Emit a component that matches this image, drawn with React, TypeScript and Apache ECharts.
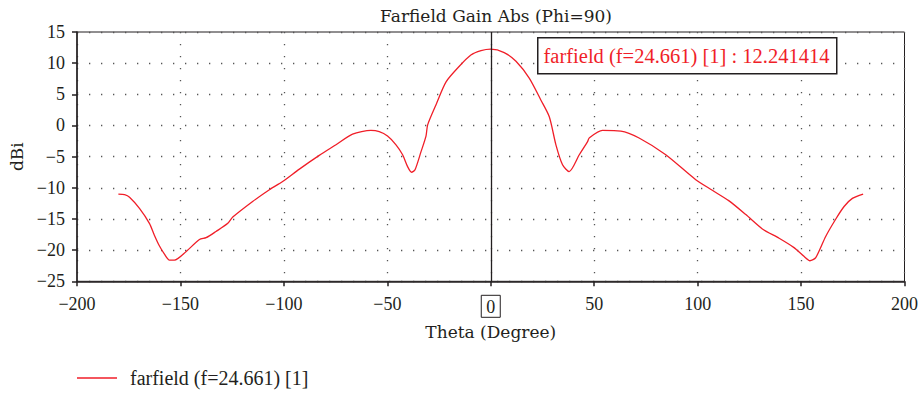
import React, { useEffect, useRef } from "react";
import * as echarts from "echarts";

const seriesName = "farfield (f=24.661) [1]";
const titleText = "Farfield Gain Abs (Phi=90)";
const annotationText = "farfield (f=24.661) [1] : 12.241414";
const xAxisName = "Theta (Degree)";
const yAxisName = "dBi";

const thetaDeg = [
  -180, -177, -174.6, -169.8, -165, -162.6, -160.2, -157.8, -155.3, -152.9,
  -147.2, -140.8, -137.6, -132.8, -127.1, -124.7, -115.1, -107, -100.6, -92.5,
  -82.9, -74.8, -66.8, -57.9, -53.9, -49.9, -45.8, -42.6, -40.2, -38.3,
  -36.6, -33.7, -31.3, -30.5, -26.5, -21.6, -15.2, -9.6, -4.7, 0,
  6.5, 12.2, 18.6, 24.2, 28.3, 31.5, 34.7, 37.9, 42.8, 46.8,
  47.6, 54, 62.9, 71.7, 84.6, 99.1, 107.1, 115.2, 123.3, 131.3,
  139.4, 146.6, 151.4, 154.3, 157.1, 161.9, 166.8, 170.8, 174.8, 180,
];
const gainDbi = [
  -11.0, -11.1, -11.5, -13.3, -15.7, -17.6, -19.3, -20.6, -21.6, -21.6,
  -20.2, -18.3, -18.0, -17.0, -15.7, -14.7, -12.2, -10.3, -9.0, -7.0,
  -4.8, -3.1, -1.4, -0.8, -1.0, -1.7, -3.1, -4.7, -6.6, -7.5,
  -7.1, -4.2, -1.7, 0.1, 3.3, 7.0, 9.5, 11.3, 12.0, 12.24,
  11.7, 10.3, 7.6, 4.1, 1.4, -3.1, -6.3, -7.4, -4.7, -2.6,
  -2.0, -0.8, -0.9, -2.0, -4.7, -8.7, -10.4, -12.1, -14.3, -16.6,
  -18.1, -19.6, -21.0, -21.7, -21.2, -17.8, -15.0, -13.0, -11.7, -11.0,
];

const X_MIN = -200, X_MAX = 200, X_STEP = 50;
const Y_MIN = -25, Y_MAX = 15, Y_STEP = 5;

const FONT = "'Liberation Serif', 'DejaVu Serif', serif";
const FONT_WIDE = "'DejaVu Serif', 'Liberation Serif', serif";
const INK = "#231f20";
const RED = "#f01e28";

const fmt = (v: number) => (v < 0 ? "\u2212" + Math.abs(v) : String(v));

export default function App() {
  const ref = useRef<HTMLDivElement>(null);
  useEffect(() => {
    if (!ref.current) return;
    const chart = echarts.init(ref.current, undefined, { renderer: "svg" });
    const gridLine = { show: true, lineStyle: { color: "#555", width: 1.3, type: [1.3, 10.7] as any } };
    chart.setOption({
      animation: false,
      backgroundColor: "#fff",
      title: {
        text: titleText,
        left: 491,
        top: 2,
        textAlign: "center",
        textStyle: { fontFamily: FONT_WIDE, fontSize: 17, fontWeight: "normal", color: INK },
      },
      grid: {
        left: 77,
        right: 15.5,
        top: 32,
        bottom: 112.7,
        show: true,
        borderColor: INK,
        borderWidth: 1,
        containLabel: false,
      },
      legend: {
        left: 77,
        top: 368,
        itemWidth: 40,
        itemHeight: 1.3,
        padding: 0,
        data: [{ name: seriesName, icon: "rect", itemStyle: { color: RED } }],
        textStyle: { fontFamily: FONT, fontSize: 20, color: INK, padding: [0, 0, 0, 8] },
      },
      xAxis: {
        type: "value",
        min: X_MIN,
        max: X_MAX,
        interval: X_STEP,
        name: xAxisName,
        nameLocation: "middle",
        nameGap: 42,
        nameTextStyle: { fontFamily: FONT_WIDE, fontSize: 17, color: INK },
        axisLine: { show: true, onZero: false, lineStyle: { color: INK, width: 1.5 } },
        axisTick: { show: true, length: 5, lineStyle: { color: INK, width: 1.5 } },
        axisLabel: {
          fontFamily: FONT,
          fontSize: 18,
          color: INK,
          margin: 14,
          formatter: (v: number) => (v === 0 ? "{b|0}" : fmt(v)),
          rich: {
            b: {
              fontFamily: FONT,
              fontSize: 18,
              color: INK,
              borderColor: INK,
              borderWidth: 1,
              padding: [3, 5, 1, 5],
            },
          },
        },
        splitLine: gridLine,
      },
      yAxis: {
        type: "value",
        min: Y_MIN,
        max: Y_MAX,
        interval: Y_STEP,
        name: yAxisName,
        nameLocation: "middle",
        nameGap: 50,
        nameTextStyle: { fontFamily: FONT_WIDE, fontSize: 17, color: INK },
        axisLine: { show: true, onZero: false, lineStyle: { color: INK, width: 1.5 } },
        axisTick: { show: true, length: 5, lineStyle: { color: INK, width: 1.5 } },
        axisLabel: { fontFamily: FONT, fontSize: 18, color: INK, margin: 12, formatter: fmt },
        splitLine: gridLine,
      },
      series: [
        {
          name: seriesName,
          type: "line",
          symbol: "none",
          smooth: 0.25,
          data: thetaDeg.map((t, i) => [t, gainDbi[i]]),
          lineStyle: { color: RED, width: 1.3 },
          itemStyle: { color: RED },
          markLine: {
            silent: true,
            symbol: ["none", "none"],
            label: { show: false },
            lineStyle: { color: INK, type: "solid", width: 1.3 },
            data: [{ xAxis: 0 }],
          },
          z: 3,
        },
      ],
      graphic: [
        {
          type: "rect",
          left: 537,
          top: 37,
          z: 100,
          shape: { x: 0, y: 0, width: 299, height: 36 },
          style: { fill: "#fff", stroke: INK, lineWidth: 1.5 },
        },
        {
          type: "text",
          x: 686.5,
          y: 56,
          z: 101,
          style: {
            text: annotationText,
            fill: RED,
            fontFamily: FONT,
            fontSize: 20.5,
            align: "center",
            verticalAlign: "middle",
          },
        },
      ],
    });
    return () => chart.dispose();
  }, []);
  return (
    <div
      ref={ref}
      style={{ position: "fixed", left: 0, top: 0, width: 921, height: 394 }}
    />
  );
}
